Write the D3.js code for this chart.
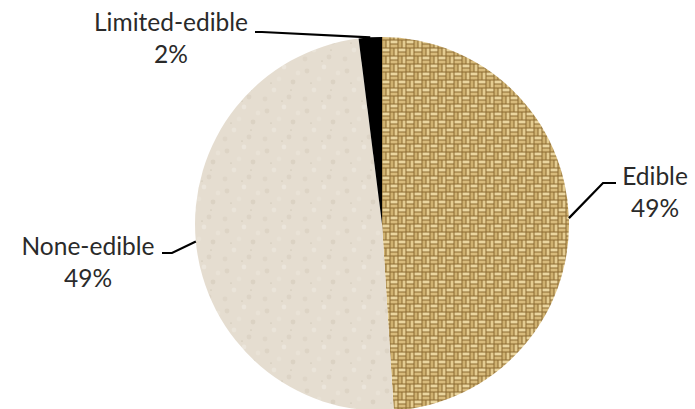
<!DOCTYPE html>
<html>
<head>
<meta charset="utf-8">
<script src="https://cdn.jsdelivr.net/npm/d3@7"></script>
<style>
  html, body { margin: 0; padding: 0; background: #fff; }
  svg { display: block; }
  text { font-family: Lato, "Open Sans", sans-serif; fill: #2a2a2a; }
</style>
</head>
<body>
<svg id="chart" width="695" height="409"></svg>
<script>
// ---- data ----
const categories = ["Edible", "None-edible", "Limited-edible"];
const values = [49, 49, 2];
const percentLabels = ["49%", "49%", "2%"];

// ---- layout (not data) ----
const W = 695, H = 409;
const cx = 382, cy = 224, R = 187;
// label anchor (centre x, first baseline y) and elbow for each category
const labelLayout = [
  { x: 655, y: 185, elbow: [603, 183], end: [616, 183] },
  { x: 88,  y: 255, elbow: [172, 253], end: [162, 253] },
  { x: 171, y: 31,  elbow: [262, 32],  end: [255, 32] }
];

const svg = d3.select("#chart");
const defs = svg.append("defs");

// burlap (woven) texture
const T = 16, Q = 8;
const burlap = defs.append("pattern")
  .attr("id", "burlap").attr("patternUnits", "userSpaceOnUse")
  .attr("width", T).attr("height", T);
burlap.append("rect").attr("width", T).attr("height", T).attr("fill", "#8c6a31");
function hThreads(x0, y0) {
  for (let k = 0; k < 2; k++) {
    burlap.append("rect").attr("x", x0 + 0.5).attr("y", y0 + k * 4 + 0.5)
      .attr("width", Q - 1).attr("height", 3).attr("fill", k ? "#d8bb7b" : "#ead59e");
  }
}
function vThreads(x0, y0) {
  for (let k = 0; k < 2; k++) {
    burlap.append("rect").attr("x", x0 + k * 4 + 0.5).attr("y", y0 + 0.5)
      .attr("width", 3).attr("height", Q - 1).attr("fill", k ? "#e4cc91" : "#cfb170");
  }
}
hThreads(0, 0); vThreads(Q, 0); vThreads(0, Q); hThreads(Q, Q);

const blur = defs.append("filter").attr("id", "soft");
blur.append("feGaussianBlur").attr("stdDeviation", 0.6);

// paper texture
const paper = defs.append("pattern")
  .attr("id", "paper").attr("patternUnits", "userSpaceOnUse")
  .attr("width", 40).attr("height", 40);
paper.append("rect").attr("width", 40).attr("height", 40).attr("fill", "#e5ddd0");
[[5,7,"#ddd4c5"],[22,3,"#ebe5db"],[31,18,"#dbd2c3"],[12,26,"#eae4d9"],[27,33,"#ddd4c6"],[36,9,"#e9e2d6"],[3,35,"#dfd6c8"],[17,15,"#e8e1d5"]]
  .forEach(([x, y, c]) => paper.append("circle").attr("cx", x).attr("cy", y).attr("r", 2.4).attr("fill", c));
[[9,19],[29,26],[20,37]].forEach(([x, y]) =>
  paper.append("circle").attr("cx", x).attr("cy", y).attr("r", 0.6).attr("fill", "#c2b7a5"));

const fills = ["url(#burlap)", "url(#paper)", "#000"];

const pie = d3.pie().sort(null).value(d => d)(values);
const arc = d3.arc().innerRadius(0).outerRadius(R);

const g = svg.append("g").attr("transform", `translate(${cx},${cy})`);
g.selectAll("path.slice").data(pie).join("path")
  .attr("class", "slice")
  .attr("d", arc)
  .attr("fill", (d, i) => fills[i])
  .attr("filter", (d, i) => i === 0 ? "url(#soft)" : null);

// leader lines
const outer = d3.arc().innerRadius(R).outerRadius(R);
pie.forEach((d, i) => {
  const c = outer.centroid(d);
  const L = labelLayout[i];
  svg.append("polyline")
    .attr("points", [[cx + c[0], cy + c[1]], L.elbow, L.end].map(p => p.join(",")).join(" "))
    .attr("fill", "none").attr("stroke", "#000").attr("stroke-width", 2.2);
});

// labels
labelLayout.forEach((L, i) => {
  const t = svg.append("text").attr("text-anchor", "middle").attr("font-size", 24.5);
  t.append("tspan").attr("x", L.x).attr("y", L.y).text(categories[i]);
  t.append("tspan").attr("x", L.x).attr("y", L.y + 32).text(percentLabels[i]);
});
</script>
</body>
</html>
